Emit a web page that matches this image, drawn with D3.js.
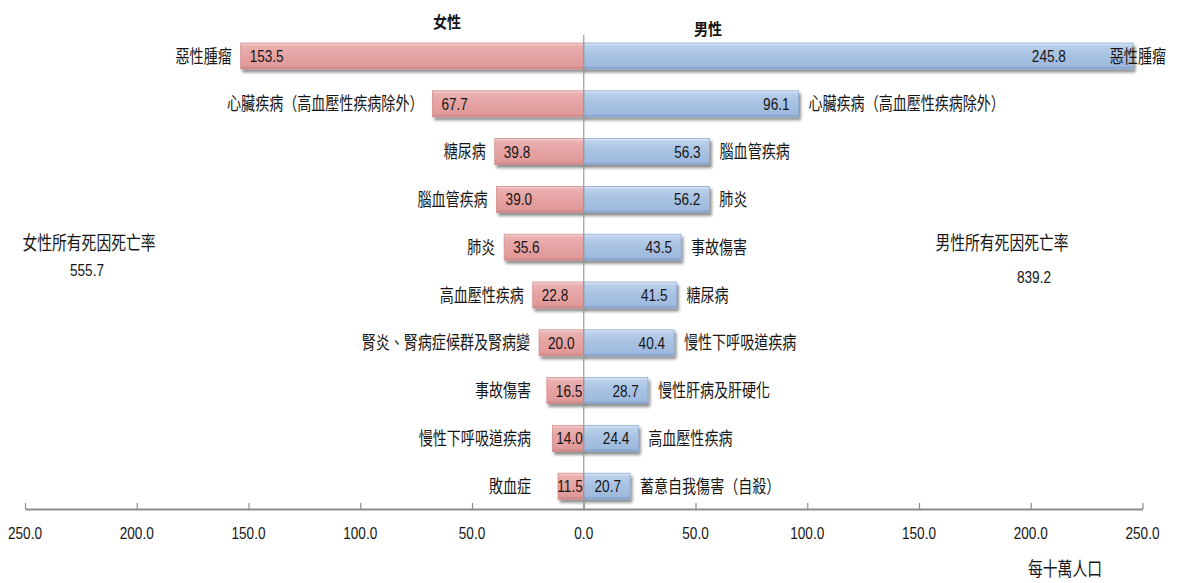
<!DOCTYPE html>
<html>
<head>
<meta charset="utf-8">
<script src="https://cdn.jsdelivr.net/npm/d3@7"></script>
<style>
  html, body { margin: 0; padding: 0; background: #fff; }
  svg { display: block; }
</style>
</head>
<body>
<svg id="chart" width="1177" height="583"></svg>
<script>
// ---- data ----
const femaleCauses = ["惡性腫瘤", "心臟疾病（高血壓性疾病除外）", "糖尿病", "腦血管疾病", "肺炎", "高血壓性疾病", "腎炎、腎病症候群及腎病變", "事故傷害", "慢性下呼吸道疾病", "敗血症"];
const femaleValues = [153.5, 67.7, 39.8, 39.0, 35.6, 22.8, 20.0, 16.5, 14.0, 11.5];
const maleCauses = ["惡性腫瘤", "心臟疾病（高血壓性疾病除外）", "腦血管疾病", "肺炎", "事故傷害", "糖尿病", "慢性下呼吸道疾病", "慢性肝病及肝硬化", "高血壓性疾病", "蓄意自我傷害（自殺）"];
const maleValues = [245.8, 96.1, 56.3, 56.2, 43.5, 41.5, 40.4, 28.7, 24.4, 20.7];
const tickValues = [-250, -200, -150, -100, -50, 0, 50, 100, 150, 200, 250];
const seriesTitles = ["女性", "男性"];
const totalLabels = ["女性所有死因死亡率", "男性所有死因死亡率"];
const totalValues = [555.7, 839.2];
const unitLabel = "每十萬人口";

// ---- layout ----
const svg = d3.select("#chart");
const axisY = 509;
const CJK = "'Noto Sans CJK TC', 'Noto Sans CJK SC', sans-serif";
const NUM = "'Liberation Sans', Arial, sans-serif";
const CJK_SIZE = 18, CJK_SX = 0.78;
const NUM_SIZE = 17, NUM_SX = 0.8;

const x = d3.scaleLinear().domain([-250, 250]).range([25, 1142.5]);
const y = d3.scaleBand().domain(d3.range(femaleValues.length))
  .range([32.1, 510.1]).paddingInner(0.456).paddingOuter(0.228);
const x0 = x(0);

// defs: gradients + shadow
const defs = svg.append("defs");
function grad(id, stops) {
  const g = defs.append("linearGradient").attr("id", id)
    .attr("x1", 0).attr("y1", 0).attr("x2", 0).attr("y2", 1);
  stops.forEach(s => g.append("stop").attr("offset", s[0]).attr("stop-color", s[1]));
}
grad("gF", [[0, "#f6d2d2"], [0.12, "#eab0b0"], [0.5, "#e6a2a2"], [0.88, "#e19a9a"], [1, "#c98383"]]);
grad("gM", [[0, "#dbe7f5"], [0.12, "#b9cfea"], [0.5, "#a7c1e2"], [0.88, "#9fbade"], [1, "#7f9dc6"]]);
const f = defs.append("filter").attr("id", "sh").attr("x", "-10%").attr("y", "-30%").attr("width", "130%").attr("height", "180%");
f.append("feGaussianBlur").attr("in", "SourceAlpha").attr("stdDeviation", 1.6).attr("result", "b");
f.append("feOffset").attr("in", "b").attr("dx", 1.5).attr("dy", 2.5).attr("result", "o");
f.append("feComponentTransfer").attr("in", "o").attr("result", "o2")
  .append("feFuncA").attr("type", "linear").attr("slope", 0.45);
const fm = f.append("feMerge");
fm.append("feMergeNode").attr("in", "o2");
fm.append("feMergeNode").attr("in", "SourceGraphic");

// helper for horizontally condensed text
function txt(parent, tx, ty, str, opts = {}) {
  const isNum = opts.num;
  const sx = opts.sx || (isNum ? NUM_SX : CJK_SX);
  const g = parent.append("g");
  const t = g.append("text").text(str)
    .attr("font-family", isNum ? NUM : CJK)
    .attr("font-size", opts.size || (isNum ? NUM_SIZE : CJK_SIZE))
    .attr("font-weight", opts.weight || "normal")
    .attr("fill", "#161616")
    .attr("text-anchor", opts.anchor || "start");
  const o = { g, t, sx, width: t.node().getComputedTextLength() * sx };
  o.move = (nx, ny) => { g.attr("transform", `translate(${nx},${ny}) scale(${sx},1)`); return o; };
  o.move(tx, ty);
  return o;
}

// bars
const bars = svg.append("g");
bars.selectAll("rect.f").data(femaleValues).join("rect")
  .attr("class", "f")
  .attr("x", d => x(-d)).attr("y", (d, i) => y(i))
  .attr("width", d => x0 - x(-d)).attr("height", y.bandwidth())
  .attr("fill", "url(#gF)").attr("stroke", "#d39090").attr("stroke-width", 0.8)
  .attr("filter", "url(#sh)");
bars.selectAll("rect.m").data(maleValues).join("rect")
  .attr("class", "m")
  .attr("x", x0).attr("y", (d, i) => y(i))
  .attr("width", d => x(d) - x0).attr("height", y.bandwidth())
  .attr("fill", "url(#gM)").attr("stroke", "#8eabd3").attr("stroke-width", 0.8)
  .attr("filter", "url(#sh)");

// center line
svg.append("line").attr("x1", x0).attr("x2", x0).attr("y1", 35).attr("y2", axisY)
  .attr("stroke", "#999").attr("stroke-width", 1.2);

// labels
const labels = svg.append("g");
femaleValues.forEach((v, i) => {
  const cy = y(i) + y.bandwidth() / 2;
  const t = txt(labels, 0, cy + 6, v.toFixed(1), { num: true });
  t.move(Math.min(x(-v) + 9, x0 - 1 - t.width), cy + 6);
  const endX = Math.min(x(-v) - 9, 531);
  txt(labels, endX, cy + 6.5, femaleCauses[i], { anchor: "end" });
});
maleValues.forEach((v, i) => {
  const cy = y(i) + y.bandwidth() / 2;
  const c = txt(labels, 0, cy + 6.5, maleCauses[i]);
  const cx = Math.min(x(v) + 10, 1166 - c.width);
  c.move(cx, cy + 6.5);
  const vEnd = cx < x(v) ? cx - 44 : x(v) - 9;
  txt(labels, vEnd, cy + 6, v.toFixed(1), { num: true, anchor: "end" });
});

// axis
const axis = d3.axisBottom(x).tickValues(tickValues)
  .tickFormat("").tickSize(0).tickPadding(0);
const ag = svg.append("g").attr("transform", `translate(0,${axisY})`).call(axis);
ag.select(".domain").attr("stroke", "#8c8c8c").attr("stroke-width", 2);
ag.selectAll(".tick line").attr("y2", -6).attr("stroke", "#8c8c8c").attr("stroke-width", 1.2);
ag.selectAll(".tick text").remove();
tickValues.forEach(d => {
  txt(svg, x(d), axisY + 30, Math.abs(d).toFixed(1), { num: true, anchor: "middle" });
});

// series titles
txt(svg, 447, 28, seriesTitles[0], { anchor: "middle", weight: "bold", size: 16, sx: 0.88 });
txt(svg, 708, 35, seriesTitles[1], { anchor: "middle", weight: "bold", size: 16, sx: 0.88 });

// totals
txt(svg, 89, 250, totalLabels[0], { anchor: "middle", size: 19 });
txt(svg, 87, 276, totalValues[0].toFixed(1), { num: true, anchor: "middle" });
txt(svg, 1002, 250, totalLabels[1], { anchor: "middle", size: 19 });
txt(svg, 1034, 283, totalValues[1].toFixed(1), { num: true, anchor: "middle" });

// unit
txt(svg, 1065, 576, unitLabel, { anchor: "middle", size: 19 });
</script>
</body>
</html>
